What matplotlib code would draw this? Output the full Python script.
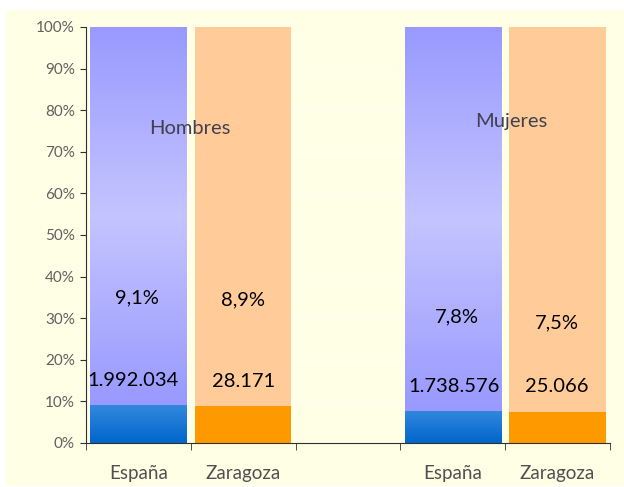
import numpy as np
import matplotlib.pyplot as plt
from matplotlib.colors import LinearSegmentedColormap
from matplotlib.patches import Rectangle

plt.rcParams["font.family"] = ["Lato", "DejaVu Sans"]

# Datos
categorias = ["España", "Zaragoza", "", "España", "Zaragoza"]
porcentaje = [9.1, 8.9, np.nan, 7.8, 7.5]
etiquetas_pct = ["9,1%", "8,9%", "", "7,8%", "7,5%"]
etiquetas_num = ["1.992.034", "28.171", "", "1.738.576", "25.066"]
es_espana = [True, False, False, True, False]
grupos = ["Hombres", "Mujeres"]

fondo = "#FFFFE6"
fig = plt.figure(figsize=(6.24, 4.87), dpi=100)
fig.patches.append(Rectangle((6 / 624, 0.002), 1, (487 - 10) / 487 - 0.002,
                             transform=fig.transFigure, facecolor=fondo,
                             edgecolor="none", zorder=-5))
ax = fig.add_axes([86 / 624, 44 / 487, 524 / 624, 416 / 487])
ax.patch.set_alpha(0)

x = np.arange(len(categorias))
ancho = 0.92

cmap_lila = LinearSegmentedColormap.from_list(
    "lila", [(0, "#9999FF"), (0.5, "#C4C4FF"), (1, "#9999FF")])
cmap_azul = LinearSegmentedColormap.from_list("azul", ["#0066CC", "#3388DD"])
grad = np.linspace(0, 1, 256).reshape(-1, 1)

for i, p in enumerate(porcentaje):
    if np.isnan(p):
        continue
    x0, x1 = x[i] - ancho / 2, x[i] + ancho / 2
    if es_espana[i]:
        ax.imshow(grad, extent=(x0, x1, 0, p), origin="lower", cmap=cmap_azul,
                  aspect="auto", zorder=2)
        ax.imshow(grad, extent=(x0, x1, p, 100), origin="lower", cmap=cmap_lila,
                  aspect="auto", zorder=2)
    else:
        ax.bar(x[i], p, width=ancho, color="#FF9900", zorder=2)
        ax.bar(x[i], 100 - p, bottom=p, width=ancho, color="#FFCC99", zorder=2)

ax.set_xlim(-0.5, len(categorias) - 0.5)
ax.set_ylim(0, 100)

# Rejilla sutil
for y in range(10, 101, 10):
    ax.axhline(y, color="#FFFFF4", lw=1, zorder=1)

# Etiquetas de datos
pos_pct = [(-0.01, 34.9), (1.0, 34.4), None, (3.04, 30.3), (3.99, 28.8)]
pos_num = [(-0.05, 15.1), (1.0, 14.9), None, (3.01, 13.7), (3.99, 13.5)]
for i in range(len(categorias)):
    if not etiquetas_pct[i]:
        continue
    ax.text(*pos_pct[i], etiquetas_pct[i], ha="center", va="center",
            fontsize=14.5, color="black", zorder=4)
    ax.text(*pos_num[i], etiquetas_num[i], ha="center", va="center",
            fontsize=14.5, color="black", zorder=4)

ax.text(0.49, 75.7, grupos[0], ha="center", va="center", fontsize=14.5,
        color="#404050", zorder=4)
ax.text(3.56, 77.2, grupos[1], ha="center", va="center", fontsize=14.5,
        color="#404050", zorder=4)

# Ejes
ax.set_yticks(range(0, 101, 10))
ax.set_yticklabels([f"{v}%" for v in range(0, 101, 10)], color="#606060", fontsize=11)
ax.set_xticks(x)
ax.set_xticklabels(categorias, color="#505050", fontsize=13.5)
ax.tick_params(axis="x", length=0, pad=16)
ax.set_xticks(np.arange(-0.5, len(categorias)), minor=True)
ax.tick_params(axis="x", which="minor", length=5, direction="out", color="#303030")
ax.tick_params(axis="y", length=4, direction="out", color="#303030", pad=4)
for lado in ["top", "right"]:
    ax.spines[lado].set_visible(False)
ax.spines["left"].set_color("#303030")
ax.spines["bottom"].set_color("#303030")

fig.savefig("out.png", dpi=100)
